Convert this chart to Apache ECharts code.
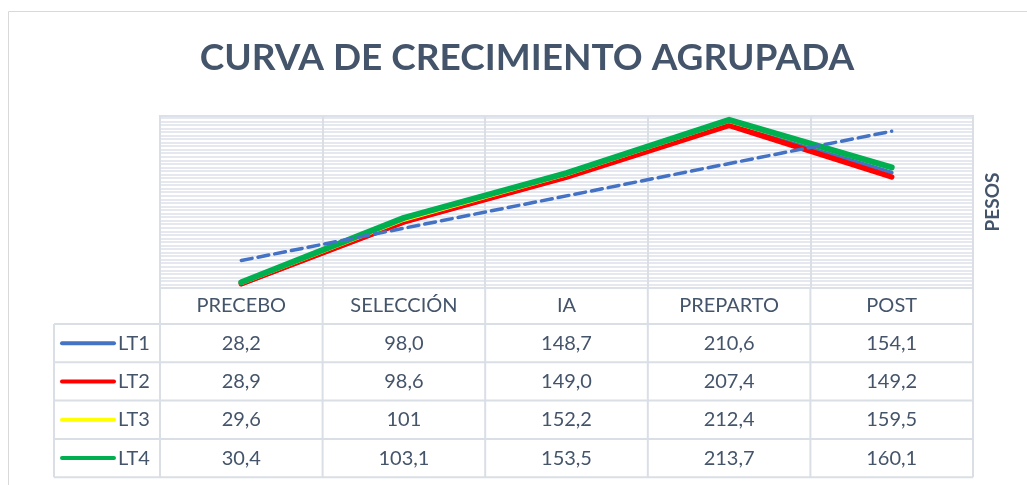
<!DOCTYPE html>
<html>
<head>
<meta charset="utf-8">
<title>Curva de crecimiento agrupada</title>
<script src="https://cdn.jsdelivr.net/npm/echarts@6/dist/echarts.min.js"></script>
<style>
	html, body { margin: 0; padding: 0; background: #ffffff; }
	#chart { width: 1027px; height: 485px; }
</style>
</head>
<body>
<div id="chart"></div>
<script>
var categories = ['PRECEBO', 'SELECCIÓN', 'IA', 'PREPARTO', 'POST'];
var seriesNames = ['LT1', 'LT2', 'LT3', 'LT4'];
var lt1 = [28.2, 98.0, 148.7, 210.6, 154.1];
var lt2 = [28.9, 98.6, 149.0, 207.4, 149.2];
var lt3 = [29.6, 101, 152.2, 212.4, 159.5];
var lt4 = [30.4, 103.1, 153.5, 213.7, 160.1];
// linear trendline of LT1, ends at PRECEBO and POST
var trendLT1 = [55.0, 200.8];
// cells the table prints without decimals [series, category]
var wholeCells = [[2, 1]];

var allSeries = [lt1, lt2, lt3, lt4];
var colors = ['#4472c4', '#ff0000', '#ffff00', '#00b050'];
var widths = [4, 5.5, 4, 6];
var textColor = '#44546a';
var borderColor = '#dadee5';
var font = 'Lato, "Open Sans", sans-serif';

var gridLeft = 160, gridTop = 116, gridWidth = 813, gridHeight = 172;

function fmt(v, s, i) {
	for (var k = 0; k < wholeCells.length; k++) {
		if (wholeCells[k][0] == s && wholeCells[k][1] == i) return String(Math.round(v));
	}
	return v.toFixed(1).replace('.', ',');
}

var chartDom = document.getElementById('chart');
var myChart = echarts.init(chartDom);

var series = [];
for (var s = 0; s < allSeries.length; s++) {
	series.push({
		name: seriesNames[s],
		type: 'line',
		data: allSeries[s],
		symbol: 'none',
		z: 2 + s,
		lineStyle: { color: colors[s], width: widths[s], cap: 'round', join: 'round' },
		itemStyle: { color: colors[s] }
	});
}
series.push({
	name: 'Lineal (LT1)',
	type: 'line',
	data: [[0, trendLT1[0]], [categories.length - 1, trendLT1[1]]],
	symbol: 'none',
	z: 10,
	lineStyle: { color: '#4472c4', width: 3.5, type: [11, 6], cap: 'round' }
});

myChart.setOption({
	animation: false,
	title: {
		text: 'CURVA DE CRECIMIENTO AGRUPADA',
		left: 522,
		top: 35,
		textAlign: 'center',
		textStyle: {
			fontFamily: font,
			fontWeight: 'bold',
			fontSize: 37,
			color: textColor
		}
	},
	grid: {
		left: gridLeft,
		top: gridTop,
		width: gridWidth,
		height: gridHeight,
		show: true,
		borderColor: borderColor,
		borderWidth: 2
	},
	xAxis: {
		type: 'category',
		data: categories,
		boundaryGap: true,
		axisLine: { show: false },
		axisTick: { show: false },
		axisLabel: {
			interval: 0,
			margin: 8,
			fontFamily: font,
			fontSize: 20,
			color: textColor
		},
		splitLine: {
			show: true,
			interval: 0,
			lineStyle: { color: borderColor, width: 2 }
		}
	},
	yAxis: {
		type: 'value',
		position: 'right',
		min: 24,
		max: 218,
		interval: 4,
		name: 'PESOS',
		nameLocation: 'middle',
		nameGap: 10,
		nameTextStyle: {
			fontFamily: font,
			fontWeight: 'bold',
			fontSize: 19,
			color: textColor
		},
		axisLine: { show: false },
		axisTick: { show: false },
		axisLabel: { show: false },
		splitLine: { lineStyle: { color: '#dde1e8', width: 1.5 } }
	},
	series: series
});

// data table under the plot
function buildTable() {
	var g = [];
	var half = gridWidth / categories.length / 2;
	var headTop = gridTop + gridHeight;
	var rowTop = headTop + 36;
	var rowH = 38.3;
	var keyLeft = 54;
	var right = gridLeft + gridWidth;
	var bottom = rowTop + rowH * seriesNames.length;

	// outer chart border
	g.push({ type: 'rect', shape: { x: 8.5, y: 11.5, width: 1200, height: 700 },
		style: { fill: 'none', stroke: '#d9d9d9', lineWidth: 1 }, silent: true });

	for (var r = 0; r <= seriesNames.length; r++) {
		var y = rowTop + r * rowH;
		g.push({ type: 'line', shape: { x1: keyLeft, y1: y, x2: right, y2: y },
			style: { stroke: borderColor, lineWidth: 2 } });
	}
	g.push({ type: 'line', shape: { x1: keyLeft, y1: rowTop, x2: keyLeft, y2: bottom },
		style: { stroke: borderColor, lineWidth: 2 } });
	for (var c = 0; c <= categories.length; c++) {
		var x = gridLeft + c * half * 2;
		g.push({ type: 'line', shape: { x1: x, y1: headTop, x2: x, y2: bottom },
			style: { stroke: borderColor, lineWidth: 2 } });
	}

	for (var s = 0; s < seriesNames.length; s++) {
		var cy = rowTop + rowH * s + rowH / 2;
		g.push({ type: 'line', shape: { x1: 62, y1: cy, x2: 114, y2: cy },
			style: { stroke: colors[s], lineWidth: 4, lineCap: 'round' } });
		g.push({ type: 'text', x: 118, y: cy,
			style: { text: seriesNames[s], fill: textColor, font: '20px ' + font,
				textAlign: 'left', textVerticalAlign: 'middle' } });
		for (var i = 0; i < categories.length; i++) {
			var cx = myChart.convertToPixel({ xAxisIndex: 0 }, i);
			g.push({ type: 'text', x: cx, y: cy,
				style: { text: fmt(allSeries[s][i], s, i), fill: textColor, font: '20px ' + font,
					textAlign: 'center', textVerticalAlign: 'middle' } });
		}
	}
	myChart.setOption({ graphic: g });
}

buildTable();
</script>
</body>
</html>
